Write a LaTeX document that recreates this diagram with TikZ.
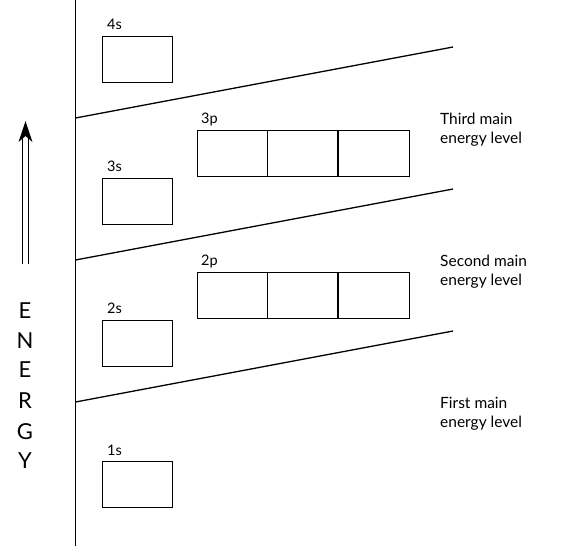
\documentclass[tikz,border=0pt]{standalone}
\usepackage{fontspec}
\setmainfont{Lato}
\usetikzlibrary{calc}
\begin{document}
\begin{tikzpicture}[x=1pt,y=-1pt,
  orb/.style={draw,line width=1.2pt,minimum width=70pt,minimum height=46pt,inner sep=0pt,anchor=north west},
  porb/.style={orb,minimum width=212pt},
  lbl/.style={font=\fontsize{14.5}{17}\selectfont,inner sep=0pt,anchor=base west},
  lvl/.style={font=\fontsize{15.5}{19}\selectfont,inner sep=0pt,anchor=base west,align=left},
  en/.style={font=\fontsize{22}{24}\selectfont,inner sep=0pt,anchor=base},
  ln/.style={line width=1.3pt}]
\useasboundingbox (0,0) rectangle (564,546);
% axis
\coordinate (axT) at (75.5,0);
\coordinate (axB) at (75.5,546);
\draw[ln] (axT) -- (axB);
% level separators
\coordinate (s1a) at (75.5,402); \coordinate (s1b) at (453,331);
\coordinate (s2a) at (75.5,260); \coordinate (s2b) at (453,189);
\coordinate (s3a) at (75.5,118); \coordinate (s3b) at (453,47);
\draw[ln] (s1a) -- (s1b);
\draw[ln] (s2a) -- (s2b);
\draw[ln] (s3a) -- (s3b);
% s orbitals
\node[orb] (o4s) at (102,36) {};
\node[orb] (o3s) at (102,178) {};
\node[orb] (o2s) at (102,320) {};
\node[orb] (o1s) at (102,461) {};
\node[lbl] (l4s) at (107,29) {4s};
\node[lbl] (l3s) at (107,171) {3s};
\node[lbl] (l2s) at (107,313) {2s};
\node[lbl] (l1s) at (107,455) {1s};
% p orbitals
\node[porb] (o3p) at (197,130) {};
\node[porb] (o2p) at (197,272) {};
\foreach \p in {o3p,o2p}{
  \draw[line width=1.2pt] ($(\p.north west)+(70.5,0)$) -- ($(\p.south west)+(70.5,0)$);
  \draw[line width=1.2pt] ($(\p.north west)+(141,0)$) -- ($(\p.south west)+(141,0)$);
}
\node[lbl] (l3p) at (201,123) {3p};
\node[lbl] (l2p) at (201,265) {2p};
% level names
\node[lvl] (t3) at (440,143) {Third main\\energy level};
\node[lvl] (t2) at (440,285) {Second main\\energy level};
\node[lvl] (t1) at (440,427) {First main\\energy level};
% energy arrow
\coordinate (arT) at (25.5,121);
\draw[line width=1.6pt] (22.5,264) -- (22.5,138);
\draw[line width=1.2pt] (28.5,264) -- (28.5,138);
\fill (arT) -- (32.5,142) -- (25.5,136) -- (18.5,142) -- cycle;
% ENERGY
\node[en] (e1) at (25,318) {E};
\node[en] (e2) at (25,348) {N};
\node[en] (e3) at (25,377) {E};
\node[en] (e4) at (25,408) {R};
\node[en] (e5) at (25,439) {G};
\node[en] (e6) at (25,468) {Y};
\end{tikzpicture}
\end{document}
